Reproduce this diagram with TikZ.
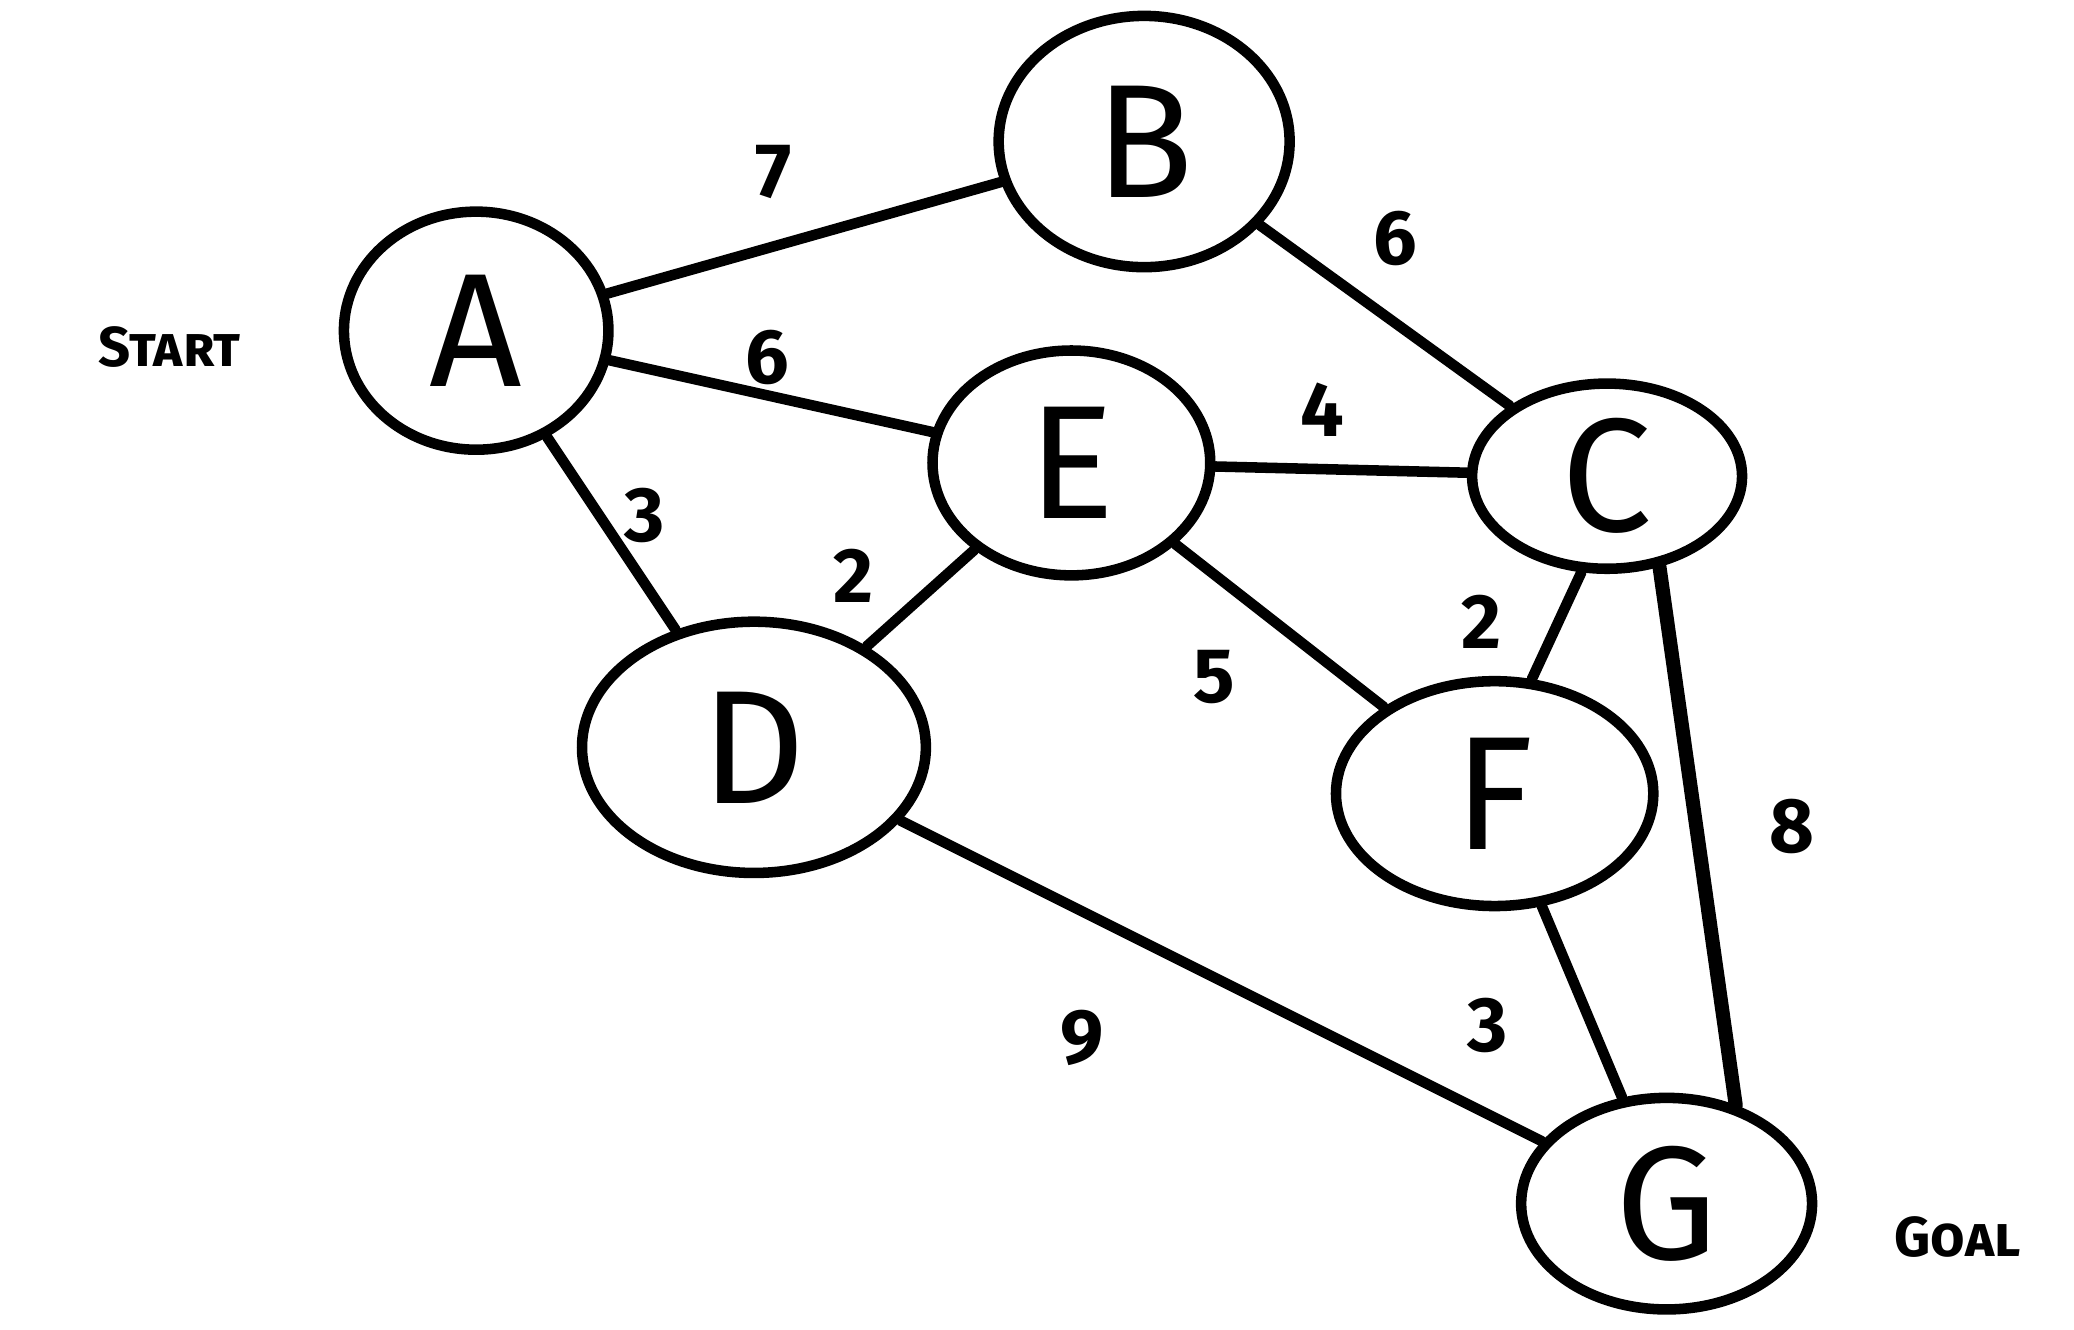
\documentclass[tikz,border=0pt]{standalone}
\usepackage{fontspec}
\setmainfont{Fira Sans}
\usetikzlibrary{shapes.geometric}
\begin{document}
\begin{tikzpicture}[x=0.013227cm,y=-0.013227cm,
  vtx/.style={draw,ellipse,line width=3pt,inner sep=0pt,font=\fontsize{46}{50}\selectfont},
  edge/.style={line width=3pt,line cap=round},
  wt/.style={font=\fontsize{22}{26}\selectfont\bfseries},
  tag/.style={font=\fontsize{16}{20}\selectfont\bfseries\scshape}]
\useasboundingbox (0,0) rectangle (1568,1005);
\node[vtx,minimum width=2.645cm,minimum height=2.381cm] (A) at (360,250) {A};
\node[vtx,minimum width=2.910cm,minimum height=2.513cm] (B) at (865,107) {B};
\node[vtx,minimum width=2.778cm,minimum height=2.249cm] (E) at (810,350) {E};
\node[vtx,minimum width=2.700cm,minimum height=1.852cm] (C) at (1215,360) {C};
\node[vtx,minimum width=3.439cm,minimum height=2.513cm] (D) at (570,565) {D};
\node[vtx,minimum width=3.174cm,minimum height=2.249cm] (F) at (1130,600) {F};
\node[vtx,minimum width=2.910cm,minimum height=2.116cm] (G) at (1260,910) {G};
\draw[edge] (A) -- (B);
\draw[edge] (A) -- (E);
\draw[edge] (A) -- (D);
\draw[edge] (B) -- (C);
\draw[edge] (E) -- (C);
\draw[edge] (E) -- (D);
\draw[edge] (E) -- (F);
\draw[edge] (C.255) -- (F.72);
\draw[edge,line width=4pt] (C.-60) -- (G.55);
\draw[edge] (D) -- (G);
\draw[edge] (F) -- (G);
\node[wt] (w1) at (585,130) {7};
\node[wt] (w2) at (580,270) {6};
\node[wt] (w3) at (1055,180) {6};
\node[wt] (w4) at (1000,310) {4};
\node[wt] (w5) at (487,390) {3};
\node[wt] (w6) at (645,435) {2};
\node[wt] (w7) at (1120,470) {2};
\node[wt] (w8) at (918,512) {5};
\node[wt] (w9) at (818,785) {9};
\node[wt] (w10) at (1125,775) {3};
\node[wt] (w11) at (1355,625) {8};
\node[tag] (s) at (128,262) {Start};
\node[tag] (g) at (1480,935) {Goal};
\end{tikzpicture}
\end{document}
